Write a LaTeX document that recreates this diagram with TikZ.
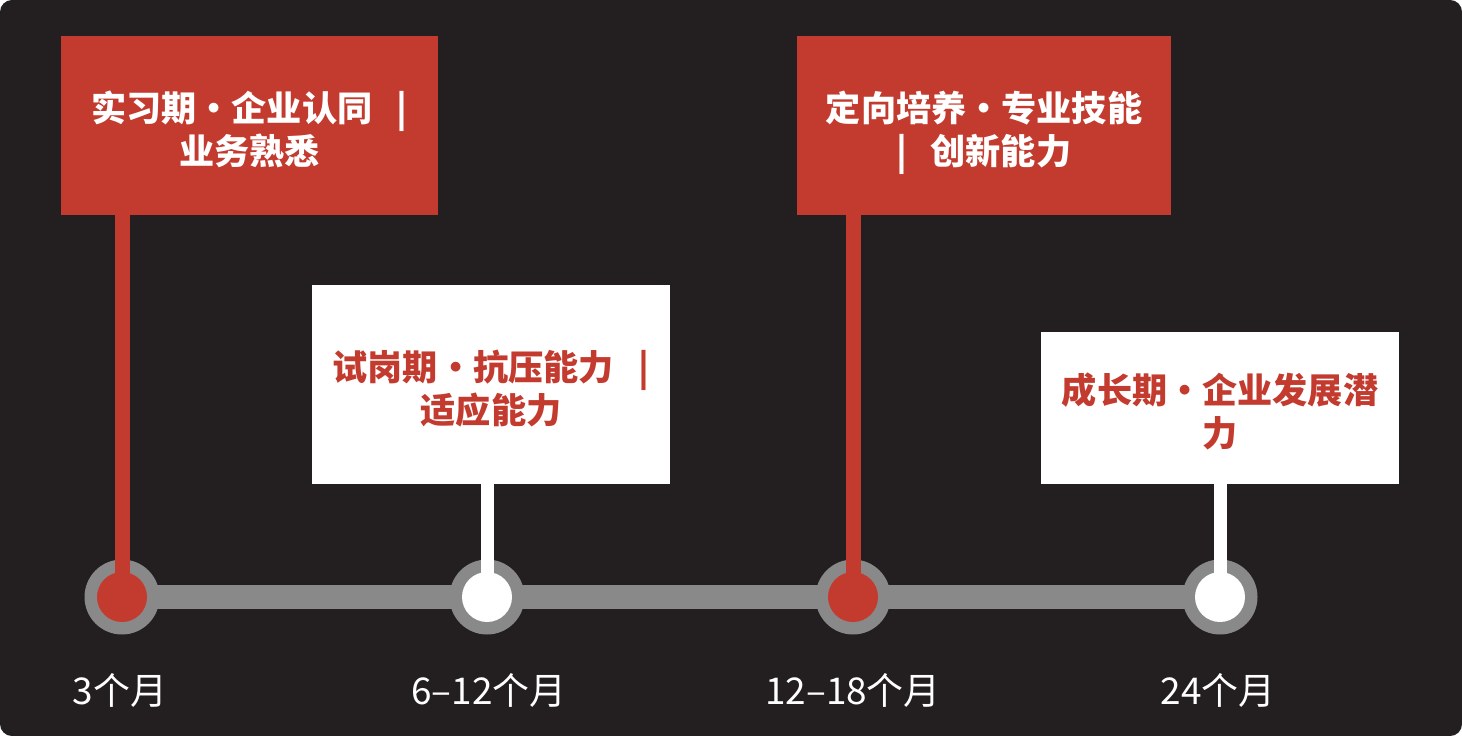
\documentclass[tikz,border=0pt]{standalone}
\usepackage{fontspec}
\setmainfont{Noto Sans CJK SC}
\usetikzlibrary{positioning}
\definecolor{bgdark}{RGB}{35,31,32}
\definecolor{tred}{RGB}{195,58,46}
\definecolor{tgray}{RGB}{137,137,137}
\newcommand{\twolines}[2]{\raisebox{2.3pt}[0pt][0pt]{\begin{tabular}[t]{@{}c@{}}#1\\#2\end{tabular}}}

\begin{document}
\begin{tikzpicture}[x=0.02cm,y=-0.02cm,
  stage/.style={inner sep=0pt, font=\fontsize{20}{24}\selectfont\bfseries},
  redbox/.style={stage, fill=tred, text=white},
  whitebox/.style={stage, fill=white, text=tred},
  ring/.style={circle, fill=tgray, minimum size=75*0.02cm, inner sep=0pt},
  when/.style={text=white, font=\fontsize{21}{24}\selectfont}]
% background
\fill[bgdark, rounded corners=0.24cm] (0,0) rectangle (1462,736);
\useasboundingbox (0,0) rectangle (1462,736);

% timeline points
\coordinate (c1) at (122,597);
\coordinate (c2) at (487,597);
\coordinate (c3) at (853,597);
\coordinate (c4) at (1220,597);
\draw[tgray, line width=24*0.02cm] (c1) -- (c4);
\foreach \p in {c1,c2,c3,c4}
  \node[ring] (r\p) at (\p) {};

% stage boxes
\node[redbox, minimum width=377*0.02cm, minimum height=179*0.02cm] (b1) at (249.5,125.5)
  {\twolines{实习期·企业认同\hspace{0.7em}|}{业务熟悉}};
\node[whitebox, minimum width=358*0.02cm, minimum height=199*0.02cm] (b2) at (491,384.5)
  {\twolines{试岗期·抗压能力\hspace{0.7em}|}{适应能力}};
\node[redbox, minimum width=374*0.02cm, minimum height=179*0.02cm] (b3) at (984,125.5)
  {\twolines{定向培养·专业技能}{|\hspace{0.65em}创新能力}};
\node[whitebox, minimum width=358*0.02cm, minimum height=152*0.02cm] (b4) at (1220,408)
  {\twolines{成长期·企业发展潜}{力}};

% stems and dots
\draw[tred, line width=15*0.02cm] (c1 |- b1.south) -- (c1);
\draw[white, line width=13*0.02cm] (c2 |- b2.south) -- (c2);
\draw[tred, line width=15*0.02cm] (c3 |- b3.south) -- (c3);
\draw[white, line width=13*0.02cm] (c4 |- b4.south) -- (c4);
\fill[tred] (c1) circle (25);
\fill[white] (c2) circle (25);
\fill[tred] (c3) circle (25);
\fill[white] (c4) circle (25);

% labels
\node[when] (t1) at (120,690) {3个月};
\node[when] (t2) at (489,690) {6–12个月};
\node[when] (t3) at (853,690) {12–18个月};
\node[when] (t4) at (1218,690) {24个月};
\end{tikzpicture}
\end{document}
